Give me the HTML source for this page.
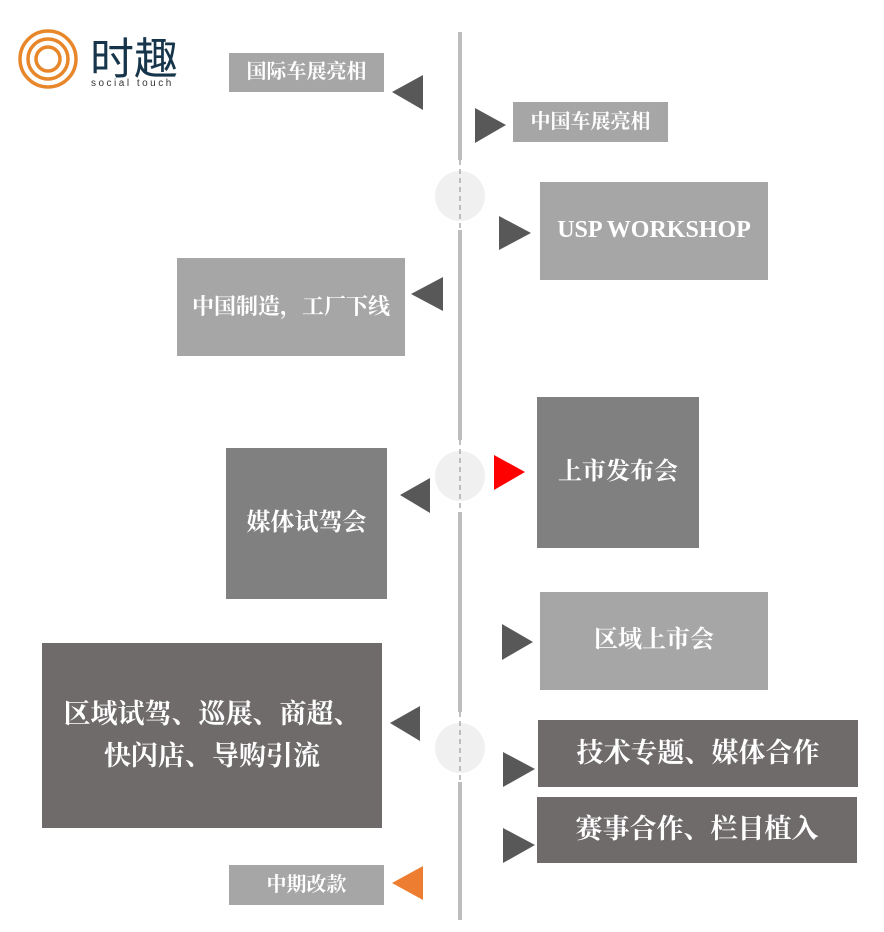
<!DOCTYPE html>
<html><head><meta charset="utf-8"><style>
body{margin:0;width:884px;height:932px;background:#fff;position:relative;overflow:hidden;font-family:"Liberation Serif","Noto Serif CJK SC",serif}
.b{position:absolute;display:flex;align-items:center;justify-content:center;color:#fff;font-weight:bold;text-align:center;line-height:1.55}
.l1{background:#a6a6a6}.l2{background:#808080}.l3{background:#6f6b6b}
svg{position:absolute;left:0;top:0}
</style></head><body>
<svg width="884" height="932">
<g fill="none" stroke="#bdbdbd" stroke-width="4">
<line x1="460" y1="32" x2="460" y2="160"/>
<line x1="460" y1="230" x2="460" y2="440"/>
<line x1="460" y1="512" x2="460" y2="712"/>
<line x1="460" y1="782" x2="460" y2="920"/>
</g>
<circle cx="460" cy="196" r="25" fill="#f0f0f0"/>
<circle cx="460" cy="476" r="25" fill="#f0f0f0"/>
<circle cx="460" cy="748" r="25" fill="#f0f0f0"/>
<g stroke="#aaa" stroke-width="1.5" stroke-dasharray="5,4">
<line x1="460" y1="160" x2="460" y2="230"/>
<line x1="460" y1="440" x2="460" y2="512"/>
<line x1="460" y1="712" x2="460" y2="782"/>
</g>
<g fill="#585858">
<polygon points="423,75 423,110 392,92"/>
<polygon points="475,108 475,143 506,125"/>
<polygon points="499,216 499,250 531,233"/>
<polygon points="443,277 443,311 411,294"/>
<polygon points="430,478 430,513 400,495"/>
<polygon points="502,624 502,660 533,642"/>
<polygon points="420,706 420,741 390,723"/>
<polygon points="503,752 503,787 535,769"/>
<polygon points="503,828 503,863 535,845"/>
</g>
<polygon points="494,455 494,490 525,472" fill="#ff0000"/>
<polygon points="423,866 423,900 392,883" fill="#ed7d31"/>
<g fill="none" stroke="#e8862a" stroke-width="3.5">
<circle cx="48" cy="59" r="28"/>
<circle cx="48" cy="59" r="20"/>
<circle cx="48" cy="59" r="12"/>
</g>
<circle cx="48" cy="59" r="5" fill="#fff"/>
<text x="90" y="74" font-family="Liberation Sans,Noto Sans CJK SC,sans-serif" font-size="44" fill="#16354a">时趣</text>
<text x="91" y="86" font-family="Liberation Sans,sans-serif" font-size="10" letter-spacing="2.5" fill="#333">social touch</text>
</svg>
<div class="b l1" style="left:229px;top:53px;width:155px;height:39px;font-size:20px">国际车展亮相</div>
<div class="b l1" style="left:513px;top:102px;width:155px;height:40px;font-size:20px">中国车展亮相</div>
<div class="b l1" style="left:540px;top:182px;width:228px;height:98px;font-size:24px">USP WORKSHOP</div>
<div class="b l1" style="left:177px;top:258px;width:228px;height:98px;font-size:22px">中国制造，工厂下线</div>
<div class="b l2" style="left:537px;top:397px;width:162px;height:151px;font-size:24px">上市发布会</div>
<div class="b l2" style="left:226px;top:448px;width:161px;height:151px;font-size:24px">媒体试驾会</div>
<div class="b l1" style="left:540px;top:592px;width:228px;height:98px;font-size:24px">区域上市会</div>
<div class="b l3" style="left:42px;top:643px;width:340px;height:185px;font-size:27px">区域试驾、巡展、商超、<br>快闪店、导购引流</div>
<div class="b l3" style="left:538px;top:720px;width:320px;height:67px;font-size:27px">技术专题、媒体合作</div>
<div class="b l3" style="left:537px;top:797px;width:320px;height:66px;font-size:27px">赛事合作、栏目植入</div>
<div class="b l1" style="left:229px;top:865px;width:155px;height:40px;font-size:20px">中期改款</div>
</body></html>
